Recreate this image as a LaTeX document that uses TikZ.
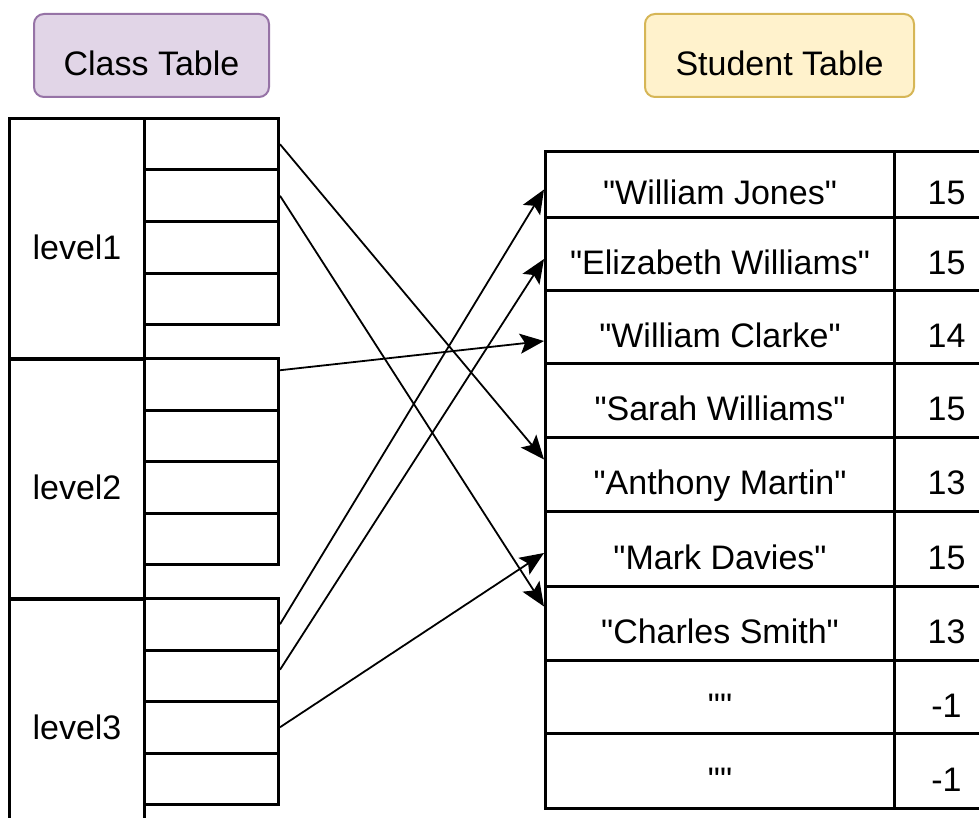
\documentclass[tikz,border=0pt]{standalone}
\usepackage{fontspec}
\setmainfont{Liberation Sans}[Ligatures=TeXOff]
\usetikzlibrary{arrows.meta}
\definecolor{classfill}{HTML}{E1D5E7}
\definecolor{classline}{HTML}{9673A6}
\definecolor{stufill}{HTML}{FFF2CC}
\definecolor{stuline}{HTML}{D6B656}
\begin{document}
\begin{tikzpicture}[
    x=1pt,y=-1pt,
    >={Stealth[length=24pt,width=20pt,inset=5pt]},
    every node/.style={
      font=\fontsize{34}{40}\selectfont,text height=40pt,text depth=0pt,inner sep=0pt
    },
    title/.style={
      draw,rounded corners=10pt,line width=2pt,minimum height=83pt,anchor=north west
    },
    level/.style={
      draw,line width=3pt,minimum width=135pt,minimum height=241pt,anchor=north west
    },
    cell/.style={
      draw,line width=3pt,minimum width=134pt,minimum height=51.5pt,anchor=north west
    },
    namecell/.style={
      draw,line width=3pt,minimum width=349pt,anchor=north west
    },
    agecell/.style={
      draw,line width=3pt,minimum width=104pt,anchor=north west
    },
    link/.style={->,line width=1.8pt},
  ]
  \clip (0,0) rectangle (979,818);
  \node[title,fill=classfill,draw=classline,minimum width=235pt] (ct) at (33,13) {Class Table};
  \node[title,fill=stufill,draw=stuline,minimum width=269pt] (st) at (644,13) {Student Table};
  \foreach \lv/\top in {1/117,2/357,3/597} {
    \node[level] (l\lv) at (8,\top) {level\lv};
    \foreach \k in {1,...,4}
      \node[cell] (c\lv\k) at (143,{\top+(\k-1)*51.5}) {};
  }
  \foreach \nm/\ag/\top/\bot [count=\i] in {
      "William Jones"/15/150/216,
      "Elizabeth Williams"/15/216/289,
      "William Clarke"/14/289/362,
      "Sarah Williams"/15/362/436,
      "Anthony Martin"/13/436/510,
      "Mark Davies"/15/510/585,
      "Charles Smith"/13/585/659,
      ""/-1/659/732,
      ""/-1/732/807} {
    \node[namecell,minimum height={(\bot-\top)*1pt}] (s\i) at (544,\top) {\nm};
    \node[agecell,minimum height={(\bot-\top)*1pt}] (a\i) at (893,\top) {\ag};
  }
  \draw[link] (c11.east) -- ([yshift=15pt]s5.west);
  \draw[link] (c12.east) -- ([yshift=17pt]s7.west);
  \draw[link] ([yshift=14pt]c21.east) -- ([yshift=-14pt]s3.west);
  \draw[link] (c31.east) -- ([yshift=-5pt]s1.west);
  \draw[link] ([yshift=6pt]c32.east) -- ([yshift=-5pt]s2.west);
  \draw[link] (c33.east) -- ([yshift=-4pt]s6.west);
\end{tikzpicture}
\end{document}
